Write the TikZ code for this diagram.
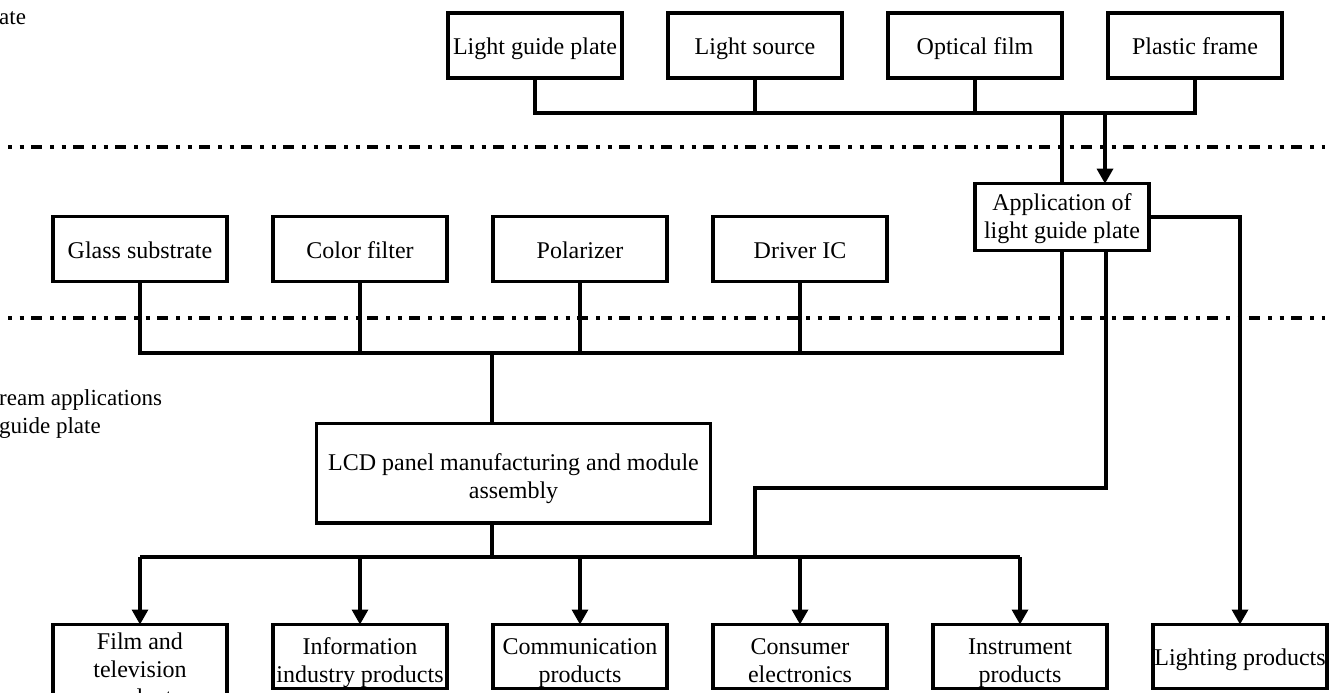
\documentclass[tikz,border=0pt]{standalone}
\usepackage{fontspec}
\setmainfont{Liberation Serif}
\usetikzlibrary{arrows.meta,positioning}
\newcommand{\lift}[1]{\rule{0pt}{#1}}

\begin{document}
\begin{tikzpicture}[
    x=1pt, y=-1pt,
    >={Triangle[width=16pt,length=15pt]},
    node distance=46pt,
    stage/.style={draw, rectangle, line width=3.3pt, outer sep=0pt,
        minimum width=174pt, minimum height=65pt,
        inner xsep=1pt, inner ysep=3pt, align=center,
        execute at begin node=\rule{0pt}{24pt},
        execute at end node=\rule[-6pt]{0pt}{6pt},
        font=\fontsize{24}{28}\selectfont},
    product/.style={stage, minimum height=63.7pt, inner ysep=0pt},
    sidelbl/.style={align=left, inner sep=0pt, anchor=base west,
        font=\fontsize{23}{28}\selectfont},
    link/.style={line width=3.3pt},
    feed/.style={link, ->},
    divider/.style={line width=4pt,
        dash pattern=on 4pt off 7.5pt on 4pt off 7.5pt on 11pt off 8pt}
]
\useasboundingbox (0,0) rectangle (1338,693);
\clip (0,0) rectangle (1338,693);

% side labels
\node[sidelbl] (uplbl) at (-1,25) {ate};
\node[sidelbl] (downlbl) at (-1,433) {ream applications\\guide plate};

% section dividers
\draw[divider] (8,147) -- (1325,147);
\draw[divider] (8,318) -- (1325,318);

% upstream
\node[stage] (lgp) at (535,45.5) {Light guide plate};
\node[stage, right=of lgp] (src) {Light source};
\node[stage, right=of src] (film) {Optical film};
\node[stage, right=of film] (frame) {Plastic frame};

\node[stage, minimum height=66.7pt] (app) at (1062,217) {\lift{20pt}Application of\\light guide plate};

% midstream
\node[stage, minimum height=64.7pt] (glass) at (140,249) {Glass substrate};
\node[stage, minimum height=64.7pt, right=of glass] (cf) {Color filter};
\node[stage, minimum height=64.7pt, right=of cf] (pol) {Polarizer};
\node[stage, minimum height=64.7pt, right=of pol] (drv) {Driver IC};

\node[stage, minimum width=394pt, minimum height=99.7pt] (lcd) at (513.5,473)
    {\lift{28pt}LCD panel manufacturing and module\\assembly};

% downstream
\node[product, anchor=north] (tv) at (140,624.5) {\lift{25pt}Film and\\television\\products};
\node[product, right=of tv.north east, anchor=north west] (info) {\lift{29.7pt}Information\\industry products};
\node[product, right=of info.north east, anchor=north west] (comm) {\lift{29.7pt}Communication\\products};
\node[product, right=of comm.north east, anchor=north west] (cons) {\lift{29.7pt}Consumer\\electronics};
\node[product, right=of cons.north east, anchor=north west] (inst) {\lift{29.7pt}Instrument\\products};
\node[product, right=of inst.north east, anchor=north west] (lamp) {Lighting products};

\coordinate (topbar) at (0,113);
\coordinate (midbar) at (0,353);
\coordinate (lowbar) at (0,557);
\coordinate (bend) at (755,488);

\draw[link] (lgp.south) |- (frame.south |- topbar) -- (frame.south);
\draw[link] (src.south) -- (src.south |- topbar);
\draw[link] (film.south) -- (film.south |- topbar);
\draw[link] (app.north |- topbar) -- (app.north);
\draw[feed] ([xshift=43pt]app.north |- topbar) -- ([xshift=43pt]app.north);

\draw[feed] (app.east) -| (lamp.north);

\draw[link] (app.south) |- (glass.south |- midbar) -- (glass.south);
\draw[link] (cf.south) -- (cf.south |- midbar);
\draw[link] (pol.south) -- (pol.south |- midbar);
\draw[link] (drv.south) -- (drv.south |- midbar);
\draw[link] ([xshift=-21.5pt]lcd.north |- midbar) -- ([xshift=-21.5pt]lcd.north);

\draw[link] ([xshift=-21.5pt]lcd.south) -- ([xshift=-21.5pt]lcd.south |- lowbar);
\draw[link] ([xshift=44pt]app.south) |- (bend) -- (bend |- lowbar);
\draw[link] (tv.north |- lowbar) -- (inst.north |- lowbar);
\draw[feed] (tv.north |- lowbar) -- (tv.north);
\draw[feed] (info.north |- lowbar) -- (info.north);
\draw[feed] (comm.north |- lowbar) -- (comm.north);
\draw[feed] (cons.north |- lowbar) -- (cons.north);
\draw[feed] (inst.north |- lowbar) -- (inst.north);

\end{tikzpicture}
\end{document}
